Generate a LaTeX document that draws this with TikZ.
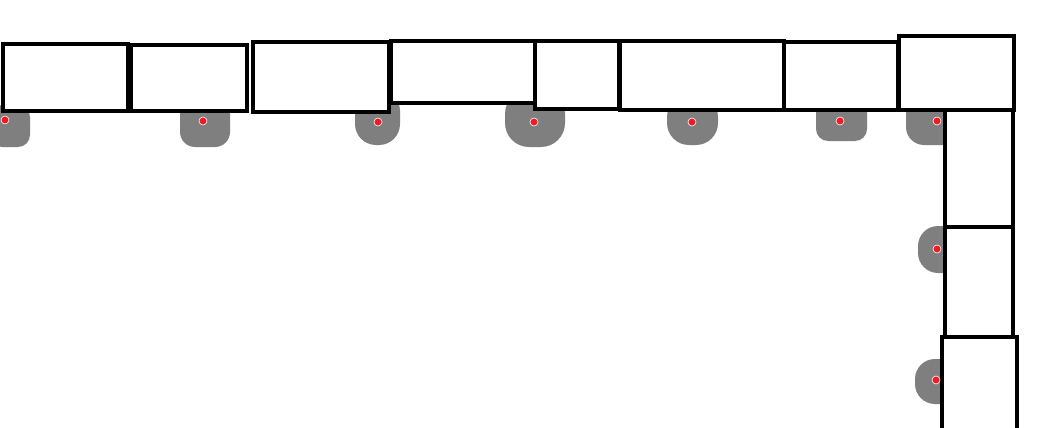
\documentclass[tikz,border=0pt]{standalone}
\usepackage{xcolor}
\definecolor{wallgray}{HTML}{7F7F7F}
\definecolor{pinred}{HTML}{ED1C24}
\usepackage{tikz}
\usetikzlibrary{positioning}
\tikzset{
    room/.style={
        rectangle, draw, fill=white,
        line width=4.5pt,
        inner sep=0pt
    },
    blob/.style={
        rectangle, fill=wallgray,
        inner sep=0pt
    },
    pin/.style={circle, fill=pinred, draw=white, line width=0.6pt,
        inner sep=0pt, minimum size=8pt},
}
\begin{document}
\begin{tikzpicture}[x=1pt, y=-1pt]
        \clip (0,0) rectangle (1045,428);
        \fill[white] (0,0) rectangle (1045,428);

        % grey patches under the walls
        \foreach \n/\x/\y/\w/\h/\r in {1/10/126/40/42/12, 2/205/120/50/54/15,
                        3/377.5/117.5/45/55/21, 4/535/118.5/60/57/24,
                        5/692.5/120/51/50/22, 6/841.5/118/51/46/12,
                        7/933/117.5/54/55/18, 8/944/249.5/52/47/20,
                        9/942.5/381.5/55/45/20}
                            \node[blob, minimum width=\w pt, minimum height=\h pt,
                                rounded corners=\r pt] (blob\n) at (\x,\y) {};

        % top row
        \node[room, minimum width=125pt, minimum height=67pt] (r1) at (65.5,77.5) {};
        \node[room, minimum width=116pt, minimum height=66pt] (r2) at (189,78) {};
        \node[room, minimum width=136pt, minimum height=70pt] (r3) at (321,77) {};
        \node[room, minimum width=145pt, minimum height=62pt] (r4) at (463.5,72) {};
        \node[room, minimum width=84pt, minimum height=68pt] (r5) at (577,75) {};
        \node[room, minimum width=164pt, minimum height=69pt] (r6) at (702,75.5) {};
        \node[room, minimum width=114pt, minimum height=68pt] (r7) at (841,76) {};
        \node[room, minimum width=115pt, minimum height=74pt] (r8) at (956.5,73) {};
        % right column
        \node[room, minimum width=68pt, minimum height=117pt] (c1) at (979,168.5) {};
        \node[room, minimum width=68pt, minimum height=110pt] (c2) at (979,282) {};
        \node[room, minimum width=75pt, minimum height=133pt] (c3) at (979.5,403.5) {};

        % red points
        \foreach \n/\x/\y in {1/5/120, 2/203/121, 3/378/122, 4/534/122, 5/692/122,
                        6/840/121, 7/937/121, 8/937/249, 9/936/380}
                            \node[pin] (pin\n) at (\x,\y) {};
\end{tikzpicture}
\end{document}
